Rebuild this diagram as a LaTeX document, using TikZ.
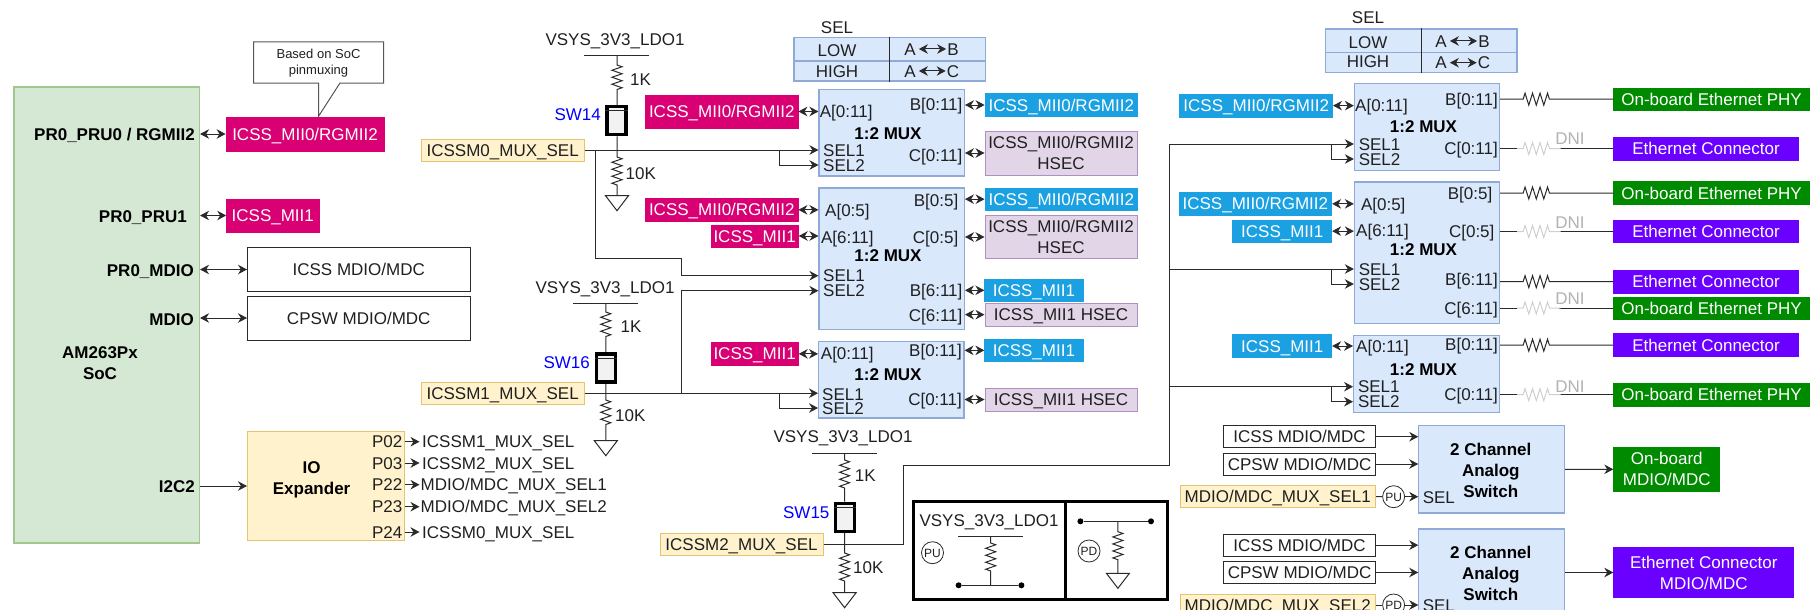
\documentclass[tikz,border=0pt]{standalone}
\usepackage{fontspec}
\setmainfont{Liberation Sans}
\usetikzlibrary{arrows.meta,decorations.pathmorphing}
\definecolor{inkc}{HTML}{202020}
\definecolor{wirec}{HTML}{2A2A2A}
\definecolor{dnilc}{HTML}{CFCFCF}
\definecolor{cmag}{HTML}{D80073}
\definecolor{csky}{HTML}{1BA1E2}
\definecolor{cgrn}{HTML}{008A00}
\definecolor{cvio}{HTML}{6A00FF}
\definecolor{chseb}{HTML}{B090C0}
\definecolor{chsef}{HTML}{E1D5E7}
\definecolor{cyeb}{HTML}{E3C56F}
\definecolor{cyef}{HTML}{FFF2CC}
\definecolor{cmub}{HTML}{8FAAD6}
\definecolor{cmuf}{HTML}{DAE8FC}
\definecolor{csocb}{HTML}{A2C68E}
\definecolor{csocf}{HTML}{D5E8D4}
\tikzset{
	every node/.style={inner sep=0pt, font=\fontsize{17pt}{20pt}\selectfont, text=inkc, text height=12.2pt, text depth=0pt},
	>={Stealth[length=9pt,width=9.5pt]},
	wh/.style 2 args={minimum width=#1, minimum height=#2},
	wire/.style={draw=wirec, line width=1pt},
	two/.style={align=center, text height=, text depth=, font=\fontsize{17pt}{21pt}\selectfont},
	twob/.style={two, font=\fontsize{17pt}{21pt}\selectfont\bfseries, text=black},
	bold/.style={font=\fontsize{17pt}{20pt}\selectfont\bfseries, text=black},
	mag/.style={draw=cmag, fill=cmag, text=white, line width=.8pt},
	sky/.style={draw=csky, fill=csky, text=white, line width=.8pt},
	grn/.style={draw=cgrn, fill=cgrn, text=white, line width=.8pt},
	vio/.style={draw=cvio, fill=cvio, text=white, line width=.8pt},
	hsec/.style={draw=chseb, fill=chsef, line width=1pt},
	yel/.style={draw=cyeb, fill=cyef, line width=1pt},
	muxbox/.style={draw=cmub, fill=cmuf, line width=1.1pt},
	plain/.style={draw=wirec, fill=white, line width=1pt},
	swbox/.style={draw=black, fill=gray!10, line width=3.5pt, minimum width=19, minimum height=28},
	pumark/.style={draw=wirec, circle, minimum size=22, line width=.8pt, font=\fontsize{12pt}{12pt}\selectfont, text height=8.6pt},
	dot/.style={fill=black, circle, minimum size=6, text height=},
	dnil/.style={draw=dnilc, line width=1pt},
	dnit/.style={text=gray!60},
	rzv/.style={decoration={zigzag, segment length=7pt, amplitude=5pt}},
	rzh/.style={decoration={zigzag, segment length=7.5pt, amplitude=6pt}},
	gnd/.pic={\draw[wire] (-11.5,0) -- (11.5,0) -- (0,15) -- cycle;},
}
\begin{document}
\begin{tikzpicture}[x=1pt, y=-1pt]
	\clip (0,0) rectangle (1820,610);
	% SoC
	\node[draw=csocb, fill=csocf, line width=1.1pt, wh={185.5}{456}] (soc) at (106.75,315) {};
	\node[twob] (socname) at (100,363) {AM263Px\\SoC};
	\node[bold, anchor=east] (prua) at (195,134) {PR0\_PRU0 / RGMII2};
	\node[bold, anchor=east] (prub) at (187,216) {PR0\_PRU1};
	\node[bold, anchor=east] (mdioa) at (194,270) {PR0\_MDIO};
	\node[bold, anchor=east] (mdiob) at (194,319) {MDIO};
	\node[bold, anchor=east] (itwoc) at (195,486) {I2C2};
	% SoC side blocks
	\draw[draw=wirec!80, fill=white, line width=1pt] (253.5,42) -- (383.5,42) -- (383.5,83) -- (340,83) -- (318.7,116) -- (318.7,83) -- (253.5,83) -- cycle;
	\node[two, font=\fontsize{13pt}{16.5pt}\selectfont] (note) at (318.5,63) {Based on SoC\\pinmuxing};
	\node[mag, wh={158}{34}] (tmzero) at (305,134) {ICSS\_MII0/RGMII2};
	\node[mag, wh={92.4}{33}] (tmone) at (272.8,215.5) {ICSS\_MII1};
	\node[plain, wh={222.5}{44}] (icss) at (358.75,269.5) {ICSS MDIO/MDC};
	\node[plain, wh={222.5}{44}] (cpsw) at (358.75,318) {CPSW MDIO/MDC};
	\draw[wire, <->] (soc.east |- tmzero.west) -- (tmzero.west);
	\draw[wire, <->] (soc.east |- tmone.west) -- (tmone.west);
	\draw[wire, <->] (soc.east |- icss.west) -- (icss.west);
	\draw[wire, <->] (soc.east |- cpsw.west) -- (cpsw.west);
	% IO expander
	\node[yel, wh={157}{109}] (ioexp) at (326,485.5) {};
	\node[twob] (ioname) at (311.6,480) {IO\\Expander};
	\draw[wire, ->] (soc.east |- itwoc) -- (ioexp.west |- itwoc);
	\node[anchor=east] (pa) at (402.5,441.7) {P02};
	\node[anchor=east] (pb) at (402.5,463) {P03};
	\node[anchor=east] (pc) at (402.5,484.7) {P22};
	\node[anchor=east] (pd) at (402.5,506.7) {P23};
	\node[anchor=east] (pe) at (402.5,532) {P24};
	\node[anchor=west] (na) at (422,441.7) {ICSSM1\_MUX\_SEL};
	\node[anchor=west] (nb) at (422,463) {ICSSM2\_MUX\_SEL};
	\node[anchor=west] (nc) at (420.5,484.7) {MDIO/MDC\_MUX\_SEL1};
	\node[anchor=west] (nd) at (420.5,506.7) {MDIO/MDC\_MUX\_SEL2};
	\node[anchor=west] (ne) at (422,532) {ICSSM0\_MUX\_SEL};
	\draw[wire, ->] (ioexp.east |- pa) -- ++(14.5,0);
	\draw[wire, ->] (ioexp.east |- pb) -- ++(14.5,0);
	\draw[wire, ->] (ioexp.east |- pc) -- ++(14.5,0);
	\draw[wire, ->] (ioexp.east |- pd) -- ++(14.5,0);
	\draw[wire, ->] (ioexp.east |- pe) -- ++(14.5,0);
	% SEL tables
	\node[muxbox, wh={191.7}{43.3}] (taba) at (889.85,59.35) {};
	\draw[muxbox] (taba.west |- 0,61) -- (taba.east |- 0,61);
	\draw[wire] (taba.north) -- (taba.south);
	\node (tsa) at (837,27) {SEL};
	\node (tla) at (837,50) {LOW};
	\node (tha) at (837,71) {HIGH};
	\node (laa) at (910,49) {A};
	\node (lab) at (953,49) {B};
	\node (haa) at (910,71) {A};
	\node (hac) at (953,71) {C};
	\draw[wire, <->, shorten <=3pt, shorten >=1pt] (laa.east) -- (lab.west);
	\draw[wire, <->, shorten <=3pt, shorten >=1pt] (haa.east) -- (hac.west);
	\node[muxbox, wh={191.6}{43.7}] (tabb) at (1421.2,50.85) {};
	\draw[muxbox] (tabb.west |- 0,52.7) -- (tabb.east |- 0,52.7);
	\draw[wire] (tabb.north) -- (tabb.south);
	\node (tsb) at (1368,17.3) {SEL};
	\node (tlb) at (1368,42) {LOW};
	\node (thb) at (1368,61) {HIGH};
	\node (lba) at (1441,41) {A};
	\node (lbb) at (1484,41) {B};
	\node (hba) at (1441,62.7) {A};
	\node (hbc) at (1484,62.7) {C};
	\draw[wire, <->, shorten <=3pt, shorten >=1pt] (lba.east) -- (lbb.west);
	\draw[wire, <->, shorten <=3pt, shorten >=1pt] (hba.east) -- (hbc.west);
	% left muxes
	\node[muxbox, wh={145.4}{86.7}] (muxa) at (891.7,132.65) {};
	\node[muxbox, wh={145.4}{141.3}] (muxb) at (891.7,258.65) {};
	\node[muxbox, wh={145.4}{76.3}] (muxc) at (891.3,379.85) {};
	\node[bold] (ma) at (888,133) {1:2 MUX};
	\node[bold] (mb) at (888,255.7) {1:2 MUX};
	\node[bold] (mc) at (888,374.7) {1:2 MUX};
	\node[anchor=west] (aa) at (819.7,111.7) {A[0:11]};
	\node[anchor=east] (ab) at (962.6,104.7) {B[0:11]};
	\node[anchor=east] (ac) at (962.6,155) {C[0:11]};
	\node[anchor=west] (asa) at (823,150.7) {SEL1};
	\node[anchor=west] (asb) at (823,165) {SEL2};
	\node[anchor=west] (ba) at (825,210) {A[0:5]};
	\node[anchor=west] (bb) at (820.8,237) {A[6:11]};
	\node[anchor=east] (bc) at (958.5,200) {B[0:5]};
	\node[anchor=east] (bd) at (958.5,237) {C[0:5]};
	\node[anchor=east] (be) at (962.6,290.7) {B[6:11]};
	\node[anchor=east] (bf) at (962.6,315) {C[6:11]};
	\node[anchor=west] (bsa) at (823,275.7) {SEL1};
	\node[anchor=west] (bsb) at (823,290.7) {SEL2};
	\node[anchor=west] (ca) at (820.7,353) {A[0:11]};
	\node[anchor=east] (cb) at (962,350.7) {B[0:11]};
	\node[anchor=east] (cc) at (962,399) {C[0:11]};
	\node[anchor=west] (csa) at (822,394) {SEL1};
	\node[anchor=west] (csb) at (822,408) {SEL2};
	% left mux tags
	\node[mag, wh={152.5}{33}] (lma) at (721.75,111.5) {ICSS\_MII0/RGMII2};
	\node[mag, wh={152.5}{22.3}] (lmb) at (721.75,209.85) {ICSS\_MII0/RGMII2};
	\node[mag, wh={87.4}{22}] (lmc) at (754.6,236) {ICSS\_MII1};
	\node[mag, wh={87.4}{22.3}] (lmd) at (754.6,353.85) {ICSS\_MII1};
	\node[sky, wh={152.6}{22.6}] (rsa) at (1061.3,105) {ICSS\_MII0/RGMII2};
	\node[hsec, two, wh={152}{44}] (rha) at (1061,153) {ICSS\_MII0/RGMII2\\HSEC};
	\node[sky, wh={152.6}{22.3}] (rsb) at (1061.3,199.15) {ICSS\_MII0/RGMII2};
	\node[hsec, two, wh={152}{43.4}] (rhb) at (1061,237) {ICSS\_MII0/RGMII2\\HSEC};
	\node[sky, wh={98.3}{22}] (rsc) at (1033.9,290.3) {ICSS\_MII1};
	\node[hsec, wh={152}{23.3}] (rhc) at (1061,314.65) {ICSS\_MII1 HSEC};
	\node[sky, wh={98.3}{22.7}] (rsd) at (1033.9,350.35) {ICSS\_MII1};
	\node[hsec, wh={152}{23}] (rhd) at (1061,399.5) {ICSS\_MII1 HSEC};
	\draw[wire, <->] (lma.east) -- (lma.east -| muxa.west);
	\draw[wire, <->] (lmb.east) -- (lmb.east -| muxb.west);
	\draw[wire, <->] (lmc.east) -- (lmc.east -| muxb.west);
	\draw[wire, <->] (lmd.east) -- (lmd.east -| muxc.west);
	\draw[wire, <->] (rsa.west -| muxa.east) -- (rsa.west);
	\draw[wire, <->] (rha.west -| muxa.east) -- (rha.west);
	\draw[wire, <->] (rsb.west -| muxb.east) -- (rsb.west);
	\draw[wire, <->] (rhb.west -| muxb.east) -- (rhb.west);
	\draw[wire, <->] (rsc.west -| muxb.east) -- (rsc.west);
	\draw[wire, <->] (rhc.west -| muxb.east) -- (rhc.west);
	\draw[wire, <->] (rsd.west -| muxc.east) -- (rsd.west);
	\draw[wire, <->] (rhd.west -| muxc.east) -- (rhd.west);
	% SW14
	\node (vsa) at (615,39) {VSYS\_3V3\_LDO1};
	\coordinate (raa) at (584,56);
	\coordinate (rab) at (648.6,56);
	\coordinate (rac) at (617,56);
	\draw[wire] (raa) -- (rab);
	\node[swbox] (swa) at (616.5,120.5) {};
	\draw[draw=wirec, line width=1pt] ([yshift=-6pt]swa.north west) -- ([yshift=-6pt]swa.north east);
	\node[anchor=east, text=blue] (swna) at (601,114) {SW14};
	\node[anchor=west] (oka) at (630,79) {1K};
	\node[anchor=west] (tka) at (625.5,173) {10K};
	\draw[wire] (rac) -- (617,65) decorate[rzv]{-- (617,92)} -- (swa.north -| rac);
	\coordinate (gna) at (617,195.7);
	\draw[wire] (swa.south -| rac) -- (617,157) decorate[rzv]{-- (617,185)} -- (gna);
	\pic at (gna) {gnd};
	\node[yel, wh={163.4}{22}] (sela) at (502.7,150) {ICSSM0\_MUX\_SEL};
	\coordinate (bra) at (779,150);
	\coordinate (brb) at (595,150);
	\coordinate (brc) at (681,258);
	\draw[wire, ->] (sela.east) -- (sela.east -| muxa.west);
	\draw[wire, ->] (bra) |- (asb -| muxa.west);
	\draw[wire, ->] (brb) |- (brc) |- (bsa -| muxb.west);
	% SW16
	\node (vsb) at (605,287) {VSYS\_3V3\_LDO1};
	\coordinate (rba) at (573.4,303.3);
	\coordinate (rbb) at (638,303.3);
	\coordinate (rbc) at (605.8,303.3);
	\draw[wire] (rba) -- (rbb);
	\node[swbox] (swb) at (606,367.85) {};
	\draw[draw=wirec, line width=1pt] ([yshift=-6pt]swb.north west) -- ([yshift=-6pt]swb.north east);
	\node[anchor=east, text=blue] (swnb) at (590,362.7) {SW16};
	\node[anchor=west] (okb) at (620.5,326) {1K};
	\node[anchor=west] (tkb) at (615,415) {10K};
	\draw[wire] (rbc) -- (605.8,312) decorate[rzv]{-- (605.8,338)} -- (swb.north -| rbc);
	\coordinate (gnb) at (605.8,440.7);
	\draw[wire] (swb.south -| rbc) -- (605.8,400) decorate[rzv]{-- (605.8,426)} -- (gnb);
	\pic at (gnb) {gnd};
	\node[yel, wh={163.4}{22.3}] (selb) at (502.7,393.2) {ICSSM1\_MUX\_SEL};
	\coordinate (brd) at (681.4,393.2);
	\coordinate (bre) at (779,393.2);
	\draw[wire, ->] (selb.east) -- (selb.east -| muxc.west);
	\draw[wire, ->] (brd) |- (bsb -| muxb.west);
	\draw[wire, ->] (bre) |- (csb -| muxc.west);
	% SW15
	\node (vsc) at (843,436.7) {VSYS\_3V3\_LDO1};
	\coordinate (rca) at (812,453);
	\coordinate (rcb) at (877,453);
	\coordinate (rcc) at (844.6,453);
	\draw[wire] (rca) -- (rcb);
	\node[swbox] (swc) at (844.8,517.35) {};
	\draw[draw=wirec, line width=1pt] ([yshift=-6pt]swc.north west) -- ([yshift=-6pt]swc.north east);
	\node[anchor=east, text=blue] (swnc) at (829.6,512) {SW15};
	\node[anchor=west] (okc) at (854.6,475) {1K};
	\node[anchor=west] (tkc) at (853,567) {10K};
	\draw[wire] (rcc) -- (844.6,460) decorate[rzv]{-- (844.6,490)} -- (swc.north -| rcc);
	\coordinate (gnc) at (844.6,592.7);
	\draw[wire] (swc.south -| rcc) -- (844.6,553) decorate[rzv]{-- (844.6,582)} -- (gnc);
	\pic at (gnc) {gnd};
	\node[yel, wh={163}{22}] (selc) at (741.5,544.3) {ICSSM2\_MUX\_SEL};
	% PU / PD key
	\node[draw=black, line width=3pt, wh={152.4}{98.3}] (keya) at (989.2,550.15) {};
	\node[draw=black, line width=3pt, wh={102.1}{98.3}] (keyb) at (1116.45,550.15) {};
	\node (vsd) at (989,520) {VSYS\_3V3\_LDO1};
	\node[pumark] (pua) at (932.5,552.7) {PU};
	\node[pumark] (pda) at (1089,551) {PD};
	\coordinate (rda) at (958,536.3);
	\coordinate (rdb) at (1023,536.3);
	\coordinate (rdc) at (990.7,536.3);
	\coordinate (rdd) at (990.7,585.3);
	\node[dot] (dota) at (958.6,585.3) {};
	\node[dot] (dotb) at (1021.4,585.3) {};
	\draw[wire] (rda) -- (rdb);
	\draw[wire] (dota) -- (dotb);
	\draw[wire] (rdc) -- (990.7,543) decorate[rzv]{-- (990.7,572)} -- (rdd);
	\node[dot] (dotc) at (1080.4,521.3) {};
	\node[dot] (dotd) at (1151,521.3) {};
	\coordinate (rde) at (1117.9,521.3);
	\coordinate (gnp) at (1117.9,573.3);
	\draw[wire] (dotc) -- (dotd);
	\draw[wire] (rde) -- (1117.9,531.7) decorate[rzv]{-- (1117.9,560)} -- (gnp);
	\pic at (gnp) {gnd};
	% right muxes
	\node[muxbox, wh={145.2}{87}] (muxd) at (1427,126.8) {};
	\node[muxbox, wh={145.2}{141.3}] (muxe) at (1427,252.65) {};
	\node[muxbox, wh={146}{76.6}] (muxf) at (1426.6,374) {};
	\node[bold] (md) at (1423.5,126.7) {1:2 MUX};
	\node[bold] (me) at (1423.5,249) {1:2 MUX};
	\node[bold] (mf) at (1423.5,369.3) {1:2 MUX};
	\node[anchor=west] (da) at (1355,105) {A[0:11]};
	\node[anchor=east] (db) at (1498,99.3) {B[0:11]};
	\node[anchor=east] (dc) at (1498,148) {C[0:11]};
	\node[anchor=west] (dsa) at (1358.6,144) {SEL1};
	\node[anchor=west] (dsb) at (1358.6,159) {SEL2};
	\node[anchor=west] (ea) at (1360.8,204) {A[0:5]};
	\node[anchor=west] (eb) at (1356,230.7) {A[6:11]};
	\node[anchor=east] (ec) at (1492.5,193.3) {B[0:5]};
	\node[anchor=east] (ed) at (1494.6,231.3) {C[0:5]};
	\node[anchor=east] (ee) at (1498,279) {B[6:11]};
	\node[anchor=east] (ef) at (1498,308) {C[6:11]};
	\node[anchor=west] (esa) at (1358.6,269) {SEL1};
	\node[anchor=west] (esb) at (1358.6,284) {SEL2};
	\node[anchor=west] (fa) at (1356,346) {A[0:11]};
	\node[anchor=east] (fb) at (1498,344) {B[0:11]};
	\node[anchor=east] (fc) at (1498,394.3) {C[0:11]};
	\node[anchor=west] (fsa) at (1357.8,386.7) {SEL1};
	\node[anchor=west] (fsb) at (1357.8,401.7) {SEL2};
	% right mux tags
	\node[sky, wh={152.8}{22.7}] (lsa) at (1256.2,105.65) {ICSS\_MII0/RGMII2};
	\node[sky, wh={152.7}{22.3}] (lsb) at (1255.35,203.85) {ICSS\_MII0/RGMII2};
	\node[sky, wh={98.9}{22.3}] (lsc) at (1282.25,231.15) {ICSS\_MII1};
	\node[sky, wh={98.9}{22.6}] (lsd) at (1282.25,346) {ICSS\_MII1};
	\draw[wire, <->] (lsa.east) -- (lsa.east -| muxd.west);
	\draw[wire, <->] (lsb.east) -- (lsb.east -| muxe.west);
	\draw[wire, <->] (lsc.east) -- (lsc.east -| muxe.west);
	\draw[wire, <->] (lsd.east) -- (lsd.east -| muxf.west);
	% right mux outputs
	\node[grn, wh={195.7}{22.5}] (oa) at (1711.55,99.15) {On-board Ethernet PHY};
	\node[vio, wh={184.7}{23}] (ob) at (1706.05,148.5) {Ethernet Connector};
	\node[grn, wh={195.7}{22.5}] (oc) at (1711.55,193) {On-board Ethernet PHY};
	\node[vio, wh={184.7}{22.4}] (od) at (1706.05,231.5) {Ethernet Connector};
	\node[vio, wh={184.7}{22.7}] (oe) at (1706.05,281.65) {Ethernet Connector};
	\node[grn, wh={195.7}{22}] (of) at (1711.55,308) {On-board Ethernet PHY};
	\node[vio, wh={184.7}{23}] (og) at (1706.05,345.2) {Ethernet Connector};
	\node[grn, wh={195.7}{22.7}] (oh) at (1711.55,394.65) {On-board Ethernet PHY};
	\draw[wire] (oa.west -| muxd.east) -- ++(23,0) decorate[rzh]{-- ++(29,0)} -- (oa.west);
	\draw[wire] (oc.west -| muxe.east) -- ++(23,0) decorate[rzh]{-- ++(29,0)} -- (oc.west);
	\draw[wire] (oe.west -| muxe.east) -- ++(23,0) decorate[rzh]{-- ++(29,0)} -- (oe.west);
	\draw[wire] (og.west -| muxf.east) -- ++(23,0) decorate[rzh]{-- ++(29,0)} -- (og.west);
	\draw[wire] (ob.west -| muxd.east) -- ++(17,0);
	\draw[wire] (ob.west) -- ++(-54,0);
	\draw[dnil] (ob.west -| muxd.east) ++(17,0) -- ++(6,0) decorate[rzh]{-- ++(29,0)} -- ++(8.5,0);
	\draw[wire] (od.west -| muxe.east) -- ++(17,0);
	\draw[wire] (od.west) -- ++(-54,0);
	\draw[dnil] (od.west -| muxe.east) ++(17,0) -- ++(6,0) decorate[rzh]{-- ++(29,0)} -- ++(8.5,0);
	\draw[wire] (of.west -| muxe.east) -- ++(17,0);
	\draw[wire] (of.west) -- ++(-54,0);
	\draw[dnil] (of.west -| muxe.east) ++(17,0) -- ++(6,0) decorate[rzh]{-- ++(29,0)} -- ++(8.5,0);
	\draw[wire] (oh.west -| muxf.east) -- ++(17,0);
	\draw[wire] (oh.west) -- ++(-54,0);
	\draw[dnil] (oh.west -| muxf.east) ++(17,0) -- ++(6,0) decorate[rzh]{-- ++(29,0)} -- ++(8.5,0);
	\node[dnit] (dnia) at (1570,138) {DNI};
	\node[dnit] (dnib) at (1570,222) {DNI};
	\node[dnit] (dnic) at (1570,298.7) {DNI};
	\node[dnit] (dnid) at (1570,386) {DNI};
	% select bus to right muxes
	\coordinate (bua) at (903,465);
	\coordinate (bub) at (1169,144);
	\coordinate (buc) at (1169,269);
	\coordinate (bud) at (1169,386.7);
	\coordinate (bue) at (1331.7,144);
	\coordinate (buf) at (1331.7,269);
	\coordinate (bug) at (1331.7,386.7);
	\draw[wire] (selc.east) -| (bua) -| (bub);
	\draw[wire, ->] (bub) -- (dsa -| muxd.west);
	\draw[wire, ->] (buc) -- (esa -| muxe.west);
	\draw[wire, ->] (bud) -- (fsa -| muxf.west);
	\draw[wire, ->] (bue) |- (dsb -| muxd.west);
	\draw[wire, ->] (buf) |- (esb -| muxe.west);
	\draw[wire, ->] (bug) |- (fsb -| muxf.west);
	% analog switches
	\node[muxbox, wh={145.7}{87.3}] (anaa) at (1491.65,469.35) {};
	\node[muxbox, wh={145.7}{87.3}] (anab) at (1491.65,572.65) {};
	\node[twob] (anna) at (1490.8,470) {2 Channel\\Analog\\Switch};
	\node[twob] (annb) at (1490.8,573) {2 Channel\\Analog\\Switch};
	\node[plain, wh={151.9}{22}] (wia) at (1299.55,436.7) {ICSS MDIO/MDC};
	\node[plain, wh={151.9}{22}] (wca) at (1299.55,464) {CPSW MDIO/MDC};
	\node[yel, wh={195.5}{22.4}] (wsa) at (1277.75,496.5) {MDIO/MDC\_MUX\_SEL1};
	\node[pumark, fill=white] (wpu) at (1393.6,496.7) {PU};
	\node[anchor=west] (sa) at (1422.6,497) {SEL};
	\node[plain, wh={151.9}{22.3}] (wib) at (1299.55,545.15) {ICSS MDIO/MDC};
	\node[plain, wh={151.9}{22}] (wcb) at (1299.55,572.5) {CPSW MDIO/MDC};
	\node[yel, wh={195.5}{22}] (wsb) at (1277.75,605) {MDIO/MDC\_MUX\_SEL2};
	\node[pumark, fill=white] (wpd) at (1393.6,605) {PD};
	\node[anchor=west] (sb) at (1422.6,605) {SEL};
	\draw[wire, ->] (wia.east) -- (wia.east -| anaa.west);
	\draw[wire, ->] (wca.east) -- (wca.east -| anaa.west);
	\draw[wire] (wsa.east) -- (wpu.west);
	\draw[wire, ->] (wpu.east) -- (wpu.east -| anaa.west);
	\draw[wire, ->] (wib.east) -- (wib.east -| anab.west);
	\draw[wire, ->] (wcb.east) -- (wcb.east -| anab.west);
	\draw[wire] (wsb.east) -- (wpd.west);
	\draw[wire, ->] (wpd.east) -- (wpd.east -| anab.west);
	\node[grn, two, wh={106.1}{44}] (onb) at (1666.75,469.3) {On-board\\MDIO/MDC};
	\node[vio, two, wh={180.1}{49.6}] (onc) at (1703.75,572.5) {Ethernet Connector\\MDIO/MDC};
	\draw[wire, ->] (anaa.east) -- (onb.west);
	\draw[wire, ->] (anab.east |- onc.west) -- (onc.west);
\end{tikzpicture}
\end{document}
